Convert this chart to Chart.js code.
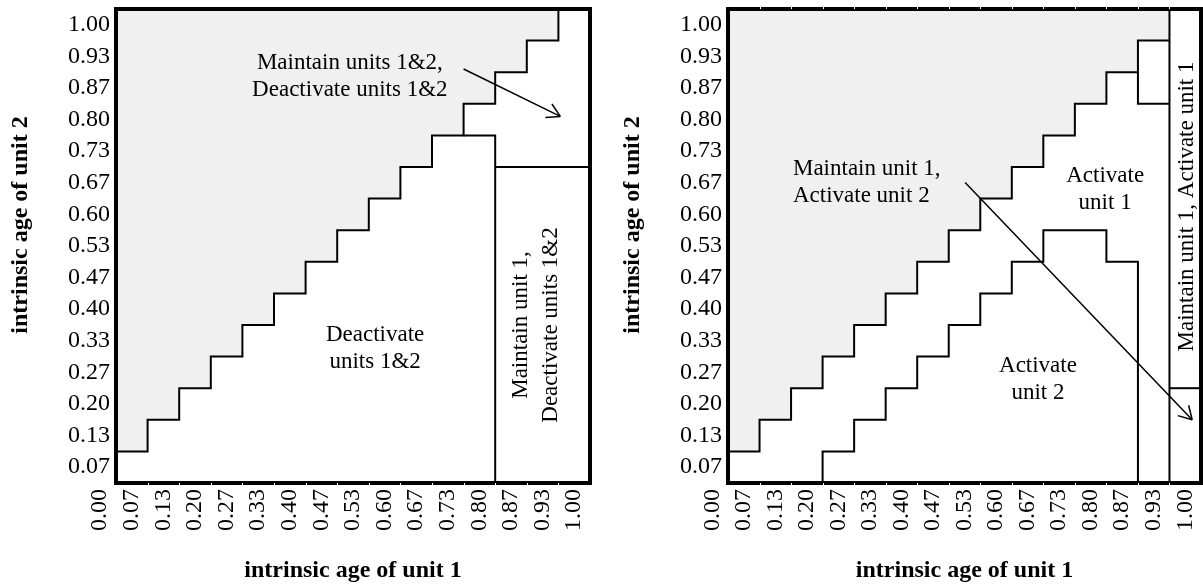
<!DOCTYPE html>
<html>
<head>
<meta charset="utf-8">
<script src="https://cdn.jsdelivr.net/npm/chart.js@4.4.0/dist/chart.umd.min.js"></script>
<style>
  body { margin: 0; background: #fff; }
  #left { position: absolute; left: 0; top: 0; }
  #right { position: absolute; left: 600px; top: 0; }
</style>
</head>
<body>
<canvas id="left" width="600" height="585"></canvas>
<canvas id="right" width="603" height="585"></canvas>
<script>
// tick labels, label k sits in the middle of cell k (x has an extra 0.00 before the first cell)
const xLabels = ['0.00','0.07','0.13','0.20','0.27','0.33','0.40','0.47','0.53','0.60','0.67','0.73','0.80','0.87','0.93','1.00'];
const yLabels = ['0.07','0.13','0.20','0.27','0.33','0.40','0.47','0.53','0.60','0.67','0.73','0.80','0.87','0.93','1.00'];
const xTickPos = [-0.5,0.5,1.5,2.5,3.5,4.5,5.5,6.5,7.5,8.5,9.5,10.5,11.5,12.5,13.5,14.5];
const yTickPos = [0.5,1.5,2.5,3.5,4.5,5.5,6.5,7.5,8.5,9.5,10.5,11.5,12.5,13.5,14.5];

// grey region: lower edge for each column (cell units)
const greyX = [0,1,2,3,4,5,6,7,8,9,10,11,12,13,14,15];
const greyY = [1,2,3,4,5,6,7,8,9,10,11,12,13,14,15,15];

// left panel boundaries
const leftMaintX = [11,12,12];
const leftMaintY = [11,11,0];
const leftSplitX = [12,15];
const leftSplitY = [10,10];
const leftArrowX = [11.0,14.06];
const leftArrowY = [13.1,11.6];

// right panel boundaries
const act2X = [3,3,4,5,6,7,8,9,10,11,12,13];
const act2Y = [0,1,2,3,4,5,6,7,8,8,7,0];
const notchX = [13,13,14];
const notchY = [13,12,12];
const colX = [14,14];
const colY = [0,14];
const cutX = [14,15];
const cutY = [3,3];
const rightArrowX = [7.52,14.72];
const rightArrowY = [9.51,2.0];

const SERIF = "'Liberation Serif', 'Times New Roman', serif";
Chart.defaults.color = '#000';

function pts(xs, ys) {
  return xs.map((x, i) => ({x: x, y: ys[i]}));
}

function line(xs, ys, extra) {
  return Object.assign({
    data: pts(xs, ys), showLine: true, borderColor: '#000', borderWidth: 2,
    pointRadius: 0, fill: false, order: 0
  }, extra || {});
}

const framePlugin = {
  id: 'frame',
  afterDatasetsDraw(chart) {
    const {ctx, chartArea: a, scales} = chart;
    const opts = chart.options.plugins.frame;
    ctx.save();
    // arrow heads
    chart.data.datasets.forEach((ds, i) => {
      if (!ds.arrow) return;
      const pts = chart.getDatasetMeta(i).data;
      const p0 = pts[pts.length - 2], p1 = pts[pts.length - 1];
      const ang = Math.atan2(p1.y - p0.y, p1.x - p0.x);
      ctx.strokeStyle = '#000';
      ctx.lineWidth = 1.5;
      ctx.beginPath();
      [Math.PI / 6, -Math.PI / 6].forEach(d => {
        ctx.moveTo(p1.x, p1.y);
        ctx.lineTo(p1.x - 15 * Math.cos(ang + d), p1.y - 15 * Math.sin(ang + d));
      });
      ctx.stroke();
    });
    // text notes
    ctx.fillStyle = '#000';
    ctx.font = '23px ' + SERIF;
    ctx.textBaseline = 'middle';
    opts.notes.forEach(n => {
      const x = scales.x.getPixelForValue(n.x);
      const y = scales.y.getPixelForValue(n.y);
      const lh = n.lh || 27;
      ctx.save();
      ctx.translate(x, y);
      if (n.rotate) ctx.rotate(-Math.PI / 2);
      ctx.textAlign = n.align || 'center';
      n.lines.forEach((t, k) => {
        ctx.fillText(t, 0, (k - (n.lines.length - 1) / 2) * lh);
      });
      ctx.restore();
    });
    // y axis title, sits a bit above the middle of the axis
    ctx.save();
    ctx.font = 'bold 24px ' + SERIF;
    ctx.textAlign = 'center';
    ctx.translate(opts.yTitleX, 225);
    ctx.rotate(-Math.PI / 2);
    ctx.fillText('intrinsic age of unit 2', 0, 0);
    ctx.restore();
    // thick frame
    ctx.strokeStyle = '#000';
    ctx.lineWidth = 4;
    ctx.strokeRect(a.left, a.top, a.right - a.left, a.bottom - a.top);
    // small white ticks on the frame
    ctx.strokeStyle = '#fff';
    ctx.lineWidth = 1;
    ctx.beginPath();
    for (let k = 1; k < 15; k++) {
      const x = Math.round(scales.x.getPixelForValue(k)) + 0.5;
      ctx.moveTo(x, a.bottom);
      ctx.lineTo(x, a.bottom + 2);
      if (opts.topTicks) {
        ctx.moveTo(x, a.top - 2);
        ctx.lineTo(x, a.top);
      }
    }
    ctx.stroke();
    ctx.restore();
  }
};

function makeChart(id, datasets, notes, padLeft, padRight, topTicks) {
  return new Chart(document.getElementById(id), {
    type: 'scatter',
    data: {datasets: datasets},
    options: {
      responsive: false,
      animation: false,
      layout: {padding: {left: padLeft, right: padRight, top: 9, bottom: 0}},
      plugins: {
        legend: {display: false},
        tooltip: {enabled: false},
        frame: {notes: notes, topTicks: topTicks, yTitleX: padLeft + 21}
      },
      scales: {
        x: {
          type: 'linear', min: 0, max: 15,
          grid: {display: false, drawTicks: false}, border: {display: false},
          afterBuildTicks: s => { s.ticks = xTickPos.map(v => ({value: v})); },
          afterFit: s => { s.height = 102; s.paddingLeft = 0; s.paddingRight = 0; },
          ticks: {
            autoSkip: false, maxRotation: 90, minRotation: 90, padding: 6,
            font: {family: SERIF, size: 24},
            callback: (v, i) => xLabels[i]
          },
          title: {
            display: true, text: 'intrinsic age of unit 1',
            font: {family: SERIF, size: 24, weight: 'bold'}, padding: {top: 0, bottom: 0}
          }
        },
        y: {
          type: 'linear', min: 0, max: 15,
          grid: {display: false, drawTicks: false}, border: {display: false},
          afterBuildTicks: s => { s.ticks = yTickPos.map(v => ({value: v})); },
          afterFit: s => { s.width = 116; s.paddingTop = 0; s.paddingBottom = 0; },
          ticks: {
            autoSkip: false, padding: 6,
            font: {family: SERIF, size: 24},
            callback: (v, i) => yLabels[i]
          }
        }
      }
    },
    plugins: [framePlugin]
  });
}

makeChart('left', [
  line(greyX, greyY, {stepped: 'before', fill: 'end', backgroundColor: '#f0f0f0', order: 1}),
  line(leftMaintX, leftMaintY),
  line(leftSplitX, leftSplitY),
  line(leftArrowX, leftArrowY, {borderWidth: 1.5, arrow: true})
], [
  {x: 7.4, y: 12.86, lines: ['Maintain units 1&2,', 'Deactivate units 1&2']},
  {x: 8.2, y: 4.26, lines: ['Deactivate', 'units 1&2']},
  {x: 13.29, y: 5.0, lines: ['Maintain unit 1,', 'Deactivate units 1&2'], rotate: true, lh: 30}
], 0, 10, false);

makeChart('right', [
  line(greyX, greyY, {stepped: 'before', fill: 'end', backgroundColor: '#f0f0f0', order: 1}),
  line(act2X, act2Y, {stepped: 'before'}),
  line(notchX, notchY),
  line(colX, colY),
  line(cutX, cutY),
  line(rightArrowX, rightArrowY, {borderWidth: 1.5, arrow: true})
], [
  {x: 2.06, y: 9.5, lines: ['Maintain unit 1,', 'Activate unit 2'], align: 'left'},
  {x: 11.96, y: 9.29, lines: ['Activate', 'unit 1']},
  {x: 9.83, y: 3.27, lines: ['Activate', 'unit 2']},
  {x: 14.56, y: 8.75, lines: ['Maintain unit 1, Activate unit 1'], rotate: true}
], 12, 2, true);
</script>
</body>
</html>
